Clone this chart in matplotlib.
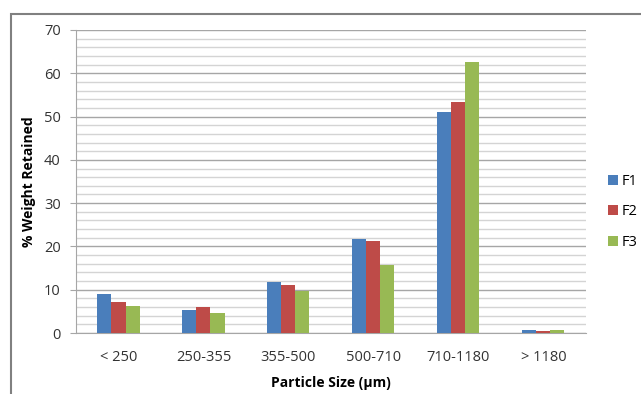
import matplotlib.pyplot as plt
import matplotlib.patches as mpatches
from matplotlib.ticker import MultipleLocator
import numpy as np

plt.rcParams['font.family'] = ['Open Sans', 'DejaVu Sans']

# Particle size classes and % weight retained per formulation
categories = ["< 250", "250-355", "355-500", "500-710", "710-1180", "> 1180"]
f1 = [8.9, 5.2, 11.7, 21.8, 51.0, 0.6]
f2 = [7.2, 6.1, 11.1, 21.2, 53.3, 0.4]
f3 = [6.2, 4.7, 9.6, 15.8, 62.7, 0.6]
series_names = ["F1", "F2", "F3"]
colors = ["#4a7ebb", "#be4b48", "#98b954"]

fig = plt.figure(figsize=(6.41, 3.94), dpi=100)
ax = fig.add_axes([0.1186, 0.1548, 0.7954, 0.7691])

x = np.arange(len(categories))
w = 0.165
bars = []
for i, (vals, c) in enumerate(zip([f1, f2, f3], colors)):
    b = ax.bar(x + (i - 1) * w, vals, width=w, color=c, zorder=3)
    bars.append(b)

ax.set_xlim(-0.5, len(categories) - 0.5)
ax.set_ylim(0, 70)
ax.yaxis.set_major_locator(MultipleLocator(10))
ax.yaxis.set_minor_locator(MultipleLocator(2))
ax.grid(which="major", axis="y", color="#a6a6a6", linewidth=1.0, zorder=0)
ax.grid(which="minor", axis="y", color="#d4d4d4", linewidth=1.0, zorder=0)

ax.set_xticks(x)
ax.set_xticklabels(categories, fontsize=10.5, color="#333333")
ax.tick_params(axis="x", length=0, pad=12)
ax.tick_params(axis="y", which="major", length=4, color="#a6a6a6", labelsize=10.5,
               labelcolor="#333333", pad=7)
ax.tick_params(axis="y", which="minor", length=0)

for s in ["top", "right"]:
    ax.spines[s].set_visible(False)
ax.spines["left"].set_color("#a6a6a6")
ax.spines["bottom"].set_color("#a6a6a6")

ax.set_ylabel("% Weight Retained", fontsize=10, fontweight="bold", labelpad=6)
ax.set_xlabel("Particle Size (\u00b5m)", fontsize=10, fontweight="bold", labelpad=8)

fig.legend(handles=[b[0] for b in bars], labels=series_names, loc="center left",
           bbox_to_anchor=(0.928, 0.462), frameon=False, fontsize=10.5,
           handlelength=0.7, handleheight=0.7, handletextpad=0.25, labelspacing=1.05)

# outer chart border (cut off on right and bottom in the original)
border = mpatches.Rectangle((11 / 641, -0.1), 1.2, 0.1 + (394 - 14) / 394,
                            transform=fig.transFigure, fill=False,
                            edgecolor="#808080", linewidth=1.5, clip_on=False)
fig.patches.append(border)

plt.savefig("out.png", dpi=100)
